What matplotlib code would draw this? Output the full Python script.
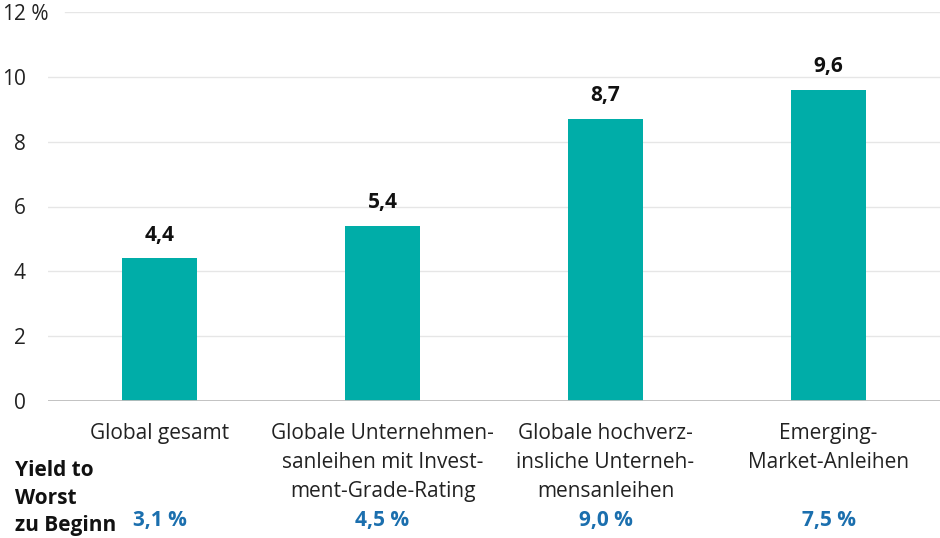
import matplotlib.pyplot as plt

plt.rcParams['font.family'] = ['Open Sans', 'DejaVu Sans']

# Daten
categories = ["Global gesamt",
              "Globale Unternehmen-\nsanleihen mit Invest-\nment-Grade-Rating",
              "Globale hochverz-\ninsliche Unterneh-\nmensanleihen",
              "Emerging-\nMarket-Anleihen"]
returns = [4.4, 5.4, 8.7, 9.6]
ytw_start = ["3,1 %", "4,5 %", "9,0 %", "7,5 %"]
yticks = [0, 2, 4, 6, 8, 10, 12]

teal = "#00ADA8"
blue = "#1B6FAE"

fig = plt.figure(figsize=(9.4, 5.38), dpi=100)
ax = fig.add_axes([48 / 940, 1 - 401 / 538, 892 / 940, 389 / 538])

x = list(range(len(categories)))
ax.bar(x, returns, width=0.335, color=teal, zorder=3)

ax.set_xlim(-0.5, 3.5)
ax.set_ylim(0, 12)

# Gitterlinien (oberste kürzer wegen "12 %")
for t in yticks[1:]:
    xmin = 17 / 892 if t == 12 else 0
    ax.axhline(t, xmin=xmin, color="#E6E6E6", lw=1, zorder=1)
ax.axhline(0, color="#BDBDBD", lw=1.3, zorder=4)

for s in ax.spines.values():
    s.set_visible(False)
ax.set_xticks([])
ax.set_yticks(yticks)
ax.set_yticklabels([str(t) for t in yticks])
ax.tick_params(axis='y', length=0, pad=16, labelsize=15, labelcolor="#222222")
ax.annotate(" %", xy=(0, 12), xycoords=('axes fraction', 'data'),
            xytext=(-16, 0), textcoords='offset points', ha='left',
            va='center_baseline', fontsize=15, color="#222222")

# Werte über den Balken
for i, v in enumerate(returns):
    ax.annotate(f"{v:.1f}".replace(".", ","), xy=(i, v), xytext=(0, 9),
                textcoords='offset points', ha='center', va='bottom',
                fontsize=15, fontweight='bold', color="#111111")

# Kategorienamen und Yield to Worst
for i, (c, y) in enumerate(zip(categories, ytw_start)):
    ax.annotate(c, xy=(i, 0), xycoords=('data', 'axes fraction'),
                xytext=(0, -16), textcoords='offset points', ha='center', va='top',
                fontsize=15, color="#222222", linespacing=1.5)
    ax.annotate(y, xy=(i, 0), xycoords=('data', 'axes fraction'),
                xytext=(0, -86), textcoords='offset points', ha='center', va='center',
                fontsize=15, fontweight='bold', color=blue)

fig.text(15 / 940, 1 - 460 / 538, "Yield to\nWorst\nzu Beginn", ha='left', va='top',
         fontsize=15, fontweight='bold', color="#111111", linespacing=1.42)

fig.savefig("out.png", dpi=100)
